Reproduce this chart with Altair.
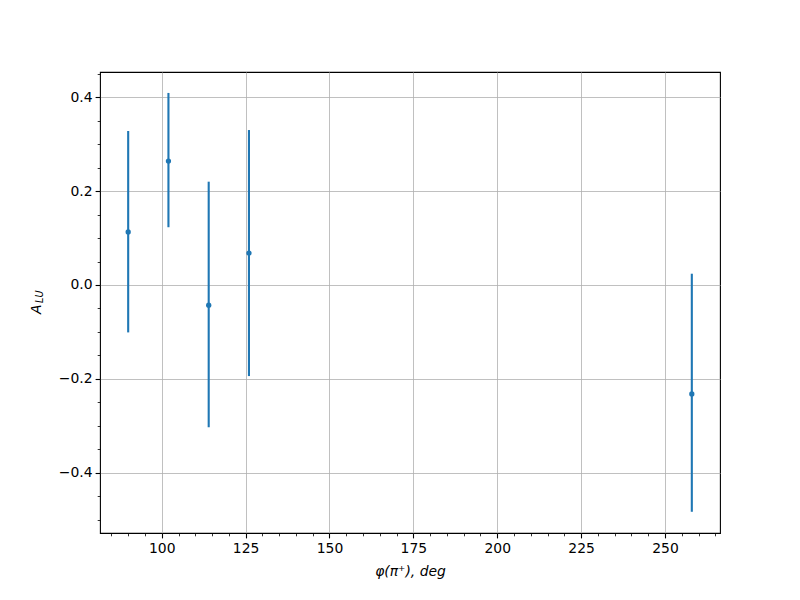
import altair as alt
import pandas as pd

phi = [90, 102, 114, 126, 258]
a_lu = [0.113, 0.264, -0.043, 0.068, -0.232]
a_low = [-0.101, 0.123, -0.303, -0.194, -0.483]
a_high = [0.328, 0.409, 0.220, 0.330, 0.024]

x_major = [100, 125, 150, 175, 200, 225, 250]
x_minor = list(range(85, 270, 5))
y_major = [-0.4, -0.2, 0.0, 0.2, 0.4]
y_minor = [round(-0.5 + 0.05 * i, 2) for i in range(20)]

df = pd.DataFrame({"phi": phi, "a": a_lu, "lo": a_low, "hi": a_high})

FONT = "DejaVu Sans"
BLUE = "#1f77b4"
xs = alt.Scale(domain=[81.6, 266.4], nice=False, zero=False)
ys = alt.Scale(domain=[-0.5282, 0.4536], nice=False, zero=False)

major_x = alt.Axis(values=x_major, grid=True, gridColor="#b0b0b0", gridWidth=0.8,
                   tickSize=4.9, tickWidth=1.1, tickColor="black", domain=False,
                   labelFont=FONT, labelFontSize=13.9, labelColor="black", labelPadding=4,
                   title="φ(π⁺), deg", titleFont=FONT, titleFontSize=13.9,
                   titleFontStyle="italic", titleFontWeight="normal", titleColor="black",
                   titlePadding=9, orient="bottom", labelFlush=False)
major_y = alt.Axis(values=y_major, grid=True, gridColor="#b0b0b0", gridWidth=0.8,
                   tickSize=4.9, tickWidth=1.1, tickColor="black", domain=False,
                   labelFont=FONT, labelFontSize=13.9, labelColor="black", labelPadding=3,
                   format=".1f", title=None, orient="left", labelFlush=False)

minor_x = alt.Axis(values=x_minor, grid=False, labels=False, tickSize=2.8, tickWidth=0.8,
                   tickColor="black", domain=False, title=None, orient="bottom")
minor_y = alt.Axis(values=y_minor, grid=False, labels=False, tickSize=2.8, tickWidth=0.8,
                   tickColor="black", domain=False, title=None, orient="left")

bars = alt.Chart(df).mark_rule(color=BLUE, strokeWidth=2.1).encode(
    x=alt.X("phi:Q", scale=xs, axis=major_x),
    y=alt.Y("lo:Q", scale=ys, axis=major_y),
    y2="hi:Q",
)
pts = alt.Chart(df).mark_circle(color=BLUE, size=28, opacity=1).encode(
    x=alt.X("phi:Q", scale=xs, axis=minor_x),
    y=alt.Y("a:Q", scale=ys, axis=minor_y),
)

lab = pd.DataFrame({"t": ["A"]})
ylab_a = alt.Chart(lab).mark_text(font=FONT, fontSize=13.9, fontStyle="italic", angle=270,
                                  align="left", baseline="alphabetic", color="black").encode(
    text="t:N", x=alt.value(-59), y=alt.value(242))
lab2 = pd.DataFrame({"t": ["LU"]})
ylab_s = alt.Chart(lab2).mark_text(font=FONT, fontSize=9.7, fontStyle="italic", angle=270,
                                   align="left", baseline="alphabetic", color="black").encode(
    text="t:N", x=alt.value(-57), y=alt.value(231))

chart = alt.layer(bars, pts, ylab_a, ylab_s).resolve_axis(
    x="independent", y="independent"
).properties(
    width=620, height=461,
    autosize="none",
    padding={"left": 92, "top": 64, "right": 72, "bottom": 59},
    background="white",
).configure_view(stroke="black", strokeWidth=1.1)

chart.save("out.html", embed_options={"renderer": "svg", "actions": False})
